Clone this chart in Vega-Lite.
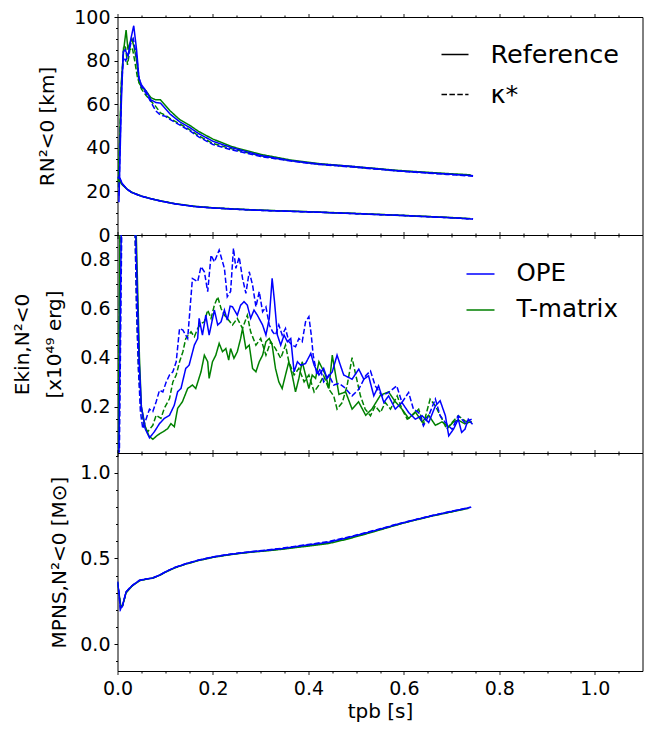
{
"$schema": "https://vega.github.io/schema/vega-lite/v6.json",
"padding": {"left": 11.5, "top": 7, "right": 2, "bottom": 2},
"spacing": 0,
"bounds": "flush",
"config": {
  "font": "DejaVu Sans",
  "view": {"stroke": "black", "strokeWidth": 1},
  "axis": {"grid": false, "domain": false, "ticks": true, "tickSize": 3.5, "tickColor": "black", "tickWidth": 1, "labelColor": "black", "titleColor": "black", "labelFontSize": 19, "titleFontSize": 20, "titleFontWeight": "normal", "labelFont": "DejaVu Sans", "titleFont": "DejaVu Sans", "labelPadding": 4, "labelFlush": false, "labelOverlap": false},
  "legend": {"orient": "top-right", "padding": 0, "title": null, "labelFont": "DejaVu Sans", "labelColor": "black", "symbolType": "stroke", "symbolStrokeWidth": 1.5, "labelLimit": 400}
},
"resolve": {"scale": {"color": "independent", "strokeDash": "independent"}, "legend": {"color": "independent", "strokeDash": "independent"}},
"vconcat": [
{
  "width": 525, "height": 218,
  "data": {"values": [
{"s":"T-matrix","r":"Reference","c":"o","t":0.002,"v":25},{"s":"T-matrix","r":"Reference","c":"o","t":0.008,"v":70},{"s":"T-matrix","r":"Reference","c":"o","t":0.013,"v":85},{"s":"T-matrix","r":"Reference","c":"o","t":0.018,"v":94},{"s":"T-matrix","r":"Reference","c":"o","t":0.022,"v":85},{"s":"T-matrix","r":"Reference","c":"o","t":0.026,"v":88},{"s":"T-matrix","r":"Reference","c":"o","t":0.03,"v":90},{"s":"T-matrix","r":"Reference","c":"o","t":0.035,"v":86},{"s":"T-matrix","r":"Reference","c":"o","t":0.04,"v":80},{"s":"T-matrix","r":"Reference","c":"o","t":0.045,"v":70},{"s":"T-matrix","r":"Reference","c":"o","t":0.05,"v":68},{"s":"T-matrix","r":"Reference","c":"o","t":0.06,"v":66},{"s":"T-matrix","r":"Reference","c":"o","t":0.07,"v":63},{"s":"T-matrix","r":"Reference","c":"o","t":0.08,"v":62},{"s":"T-matrix","r":"Reference","c":"o","t":0.09,"v":62},{"s":"T-matrix","r":"Reference","c":"o","t":0.1,"v":59.5},{"s":"T-matrix","r":"Reference","c":"o","t":0.11,"v":57},{"s":"T-matrix","r":"Reference","c":"o","t":0.13,"v":53},{"s":"T-matrix","r":"Reference","c":"o","t":0.15,"v":50.5},{"s":"T-matrix","r":"Reference","c":"o","t":0.17,"v":47.5},{"s":"T-matrix","r":"Reference","c":"o","t":0.2,"v":44},{"s":"T-matrix","r":"Reference","c":"o","t":0.24,"v":40.5},{"s":"T-matrix","r":"Reference","c":"o","t":0.3,"v":37},{"s":"T-matrix","r":"Reference","c":"o","t":0.36,"v":34.5},{"s":"T-matrix","r":"Reference","c":"o","t":0.42,"v":32.8},{"s":"T-matrix","r":"Reference","c":"o","t":0.49,"v":31.5},{"s":"T-matrix","r":"Reference","c":"o","t":0.59,"v":29.6},{"s":"T-matrix","r":"Reference","c":"o","t":0.69,"v":28.2},{"s":"T-matrix","r":"Reference","c":"o","t":0.74,"v":27.6},
{"s":"T-matrix","r":"κ*","c":"o","t":0.002,"v":22},{"s":"T-matrix","r":"κ*","c":"o","t":0.008,"v":68},{"s":"T-matrix","r":"κ*","c":"o","t":0.013,"v":87},{"s":"T-matrix","r":"κ*","c":"o","t":0.017,"v":86},{"s":"T-matrix","r":"κ*","c":"o","t":0.021,"v":78},{"s":"T-matrix","r":"κ*","c":"o","t":0.026,"v":85},{"s":"T-matrix","r":"κ*","c":"o","t":0.031,"v":86},{"s":"T-matrix","r":"κ*","c":"o","t":0.036,"v":80},{"s":"T-matrix","r":"κ*","c":"o","t":0.042,"v":72},{"s":"T-matrix","r":"κ*","c":"o","t":0.05,"v":67},{"s":"T-matrix","r":"κ*","c":"o","t":0.06,"v":64},{"s":"T-matrix","r":"κ*","c":"o","t":0.07,"v":61.5},{"s":"T-matrix","r":"κ*","c":"o","t":0.08,"v":59},{"s":"T-matrix","r":"κ*","c":"o","t":0.09,"v":56},{"s":"T-matrix","r":"κ*","c":"o","t":0.1,"v":55},{"s":"T-matrix","r":"κ*","c":"o","t":0.11,"v":53.5},{"s":"T-matrix","r":"κ*","c":"o","t":0.13,"v":51},{"s":"T-matrix","r":"κ*","c":"o","t":0.15,"v":48.5},{"s":"T-matrix","r":"κ*","c":"o","t":0.17,"v":45.5},{"s":"T-matrix","r":"κ*","c":"o","t":0.2,"v":42},{"s":"T-matrix","r":"κ*","c":"o","t":0.24,"v":39.5},{"s":"T-matrix","r":"κ*","c":"o","t":0.3,"v":36.3},{"s":"T-matrix","r":"κ*","c":"o","t":0.36,"v":34.2},{"s":"T-matrix","r":"κ*","c":"o","t":0.42,"v":32.5},{"s":"T-matrix","r":"κ*","c":"o","t":0.49,"v":31.3},{"s":"T-matrix","r":"κ*","c":"o","t":0.59,"v":29.4},{"s":"T-matrix","r":"κ*","c":"o","t":0.69,"v":28},{"s":"T-matrix","r":"κ*","c":"o","t":0.735,"v":27.4},
{"s":"OPE","r":"Reference","c":"o","t":0.003,"v":15},{"s":"OPE","r":"Reference","c":"o","t":0.008,"v":60},{"s":"OPE","r":"Reference","c":"o","t":0.012,"v":84},{"s":"OPE","r":"Reference","c":"o","t":0.016,"v":85},{"s":"OPE","r":"Reference","c":"o","t":0.022,"v":82},{"s":"OPE","r":"Reference","c":"o","t":0.028,"v":90},{"s":"OPE","r":"Reference","c":"o","t":0.034,"v":96},{"s":"OPE","r":"Reference","c":"o","t":0.04,"v":85},{"s":"OPE","r":"Reference","c":"o","t":0.045,"v":72},{"s":"OPE","r":"Reference","c":"o","t":0.05,"v":69},{"s":"OPE","r":"Reference","c":"o","t":0.06,"v":66},{"s":"OPE","r":"Reference","c":"o","t":0.07,"v":62},{"s":"OPE","r":"Reference","c":"o","t":0.08,"v":60.8},{"s":"OPE","r":"Reference","c":"o","t":0.09,"v":60.5},{"s":"OPE","r":"Reference","c":"o","t":0.1,"v":58},{"s":"OPE","r":"Reference","c":"o","t":0.11,"v":55.5},{"s":"OPE","r":"Reference","c":"o","t":0.13,"v":52},{"s":"OPE","r":"Reference","c":"o","t":0.15,"v":49.5},{"s":"OPE","r":"Reference","c":"o","t":0.17,"v":46.5},{"s":"OPE","r":"Reference","c":"o","t":0.2,"v":43},{"s":"OPE","r":"Reference","c":"o","t":0.24,"v":40},{"s":"OPE","r":"Reference","c":"o","t":0.3,"v":36.5},{"s":"OPE","r":"Reference","c":"o","t":0.36,"v":34.2},{"s":"OPE","r":"Reference","c":"o","t":0.42,"v":32.6},{"s":"OPE","r":"Reference","c":"o","t":0.49,"v":31.5},{"s":"OPE","r":"Reference","c":"o","t":0.59,"v":29.4},{"s":"OPE","r":"Reference","c":"o","t":0.69,"v":28},{"s":"OPE","r":"Reference","c":"o","t":0.745,"v":27.2},
{"s":"OPE","r":"κ*","c":"o","t":0.003,"v":18},{"s":"OPE","r":"κ*","c":"o","t":0.008,"v":65},{"s":"OPE","r":"κ*","c":"o","t":0.012,"v":82},{"s":"OPE","r":"κ*","c":"o","t":0.017,"v":80},{"s":"OPE","r":"κ*","c":"o","t":0.022,"v":82},{"s":"OPE","r":"κ*","c":"o","t":0.028,"v":88},{"s":"OPE","r":"κ*","c":"o","t":0.033,"v":90},{"s":"OPE","r":"κ*","c":"o","t":0.04,"v":82},{"s":"OPE","r":"κ*","c":"o","t":0.045,"v":72},{"s":"OPE","r":"κ*","c":"o","t":0.05,"v":68},{"s":"OPE","r":"κ*","c":"o","t":0.06,"v":65},{"s":"OPE","r":"κ*","c":"o","t":0.07,"v":61},{"s":"OPE","r":"κ*","c":"o","t":0.08,"v":57},{"s":"OPE","r":"κ*","c":"o","t":0.09,"v":55},{"s":"OPE","r":"κ*","c":"o","t":0.1,"v":54.5},{"s":"OPE","r":"κ*","c":"o","t":0.11,"v":53},{"s":"OPE","r":"κ*","c":"o","t":0.13,"v":50.5},{"s":"OPE","r":"κ*","c":"o","t":0.15,"v":48},{"s":"OPE","r":"κ*","c":"o","t":0.17,"v":45},{"s":"OPE","r":"κ*","c":"o","t":0.2,"v":41.5},{"s":"OPE","r":"κ*","c":"o","t":0.24,"v":39},{"s":"OPE","r":"κ*","c":"o","t":0.3,"v":36},{"s":"OPE","r":"κ*","c":"o","t":0.36,"v":34},{"s":"OPE","r":"κ*","c":"o","t":0.42,"v":32.4},{"s":"OPE","r":"κ*","c":"o","t":0.49,"v":31.2},{"s":"OPE","r":"κ*","c":"o","t":0.59,"v":29.3},{"s":"OPE","r":"κ*","c":"o","t":0.69,"v":27.8},{"s":"OPE","r":"κ*","c":"o","t":0.745,"v":27},
{"s":"T-matrix","r":"Reference","c":"i","t":0,"v":26},{"s":"T-matrix","r":"Reference","c":"i","t":0.005,"v":24.5},{"s":"T-matrix","r":"Reference","c":"i","t":0.01,"v":23},{"s":"T-matrix","r":"Reference","c":"i","t":0.02,"v":21},{"s":"T-matrix","r":"Reference","c":"i","t":0.03,"v":19.6},{"s":"T-matrix","r":"Reference","c":"i","t":0.05,"v":17.9},{"s":"T-matrix","r":"Reference","c":"i","t":0.07,"v":16.7},{"s":"T-matrix","r":"Reference","c":"i","t":0.09,"v":15.7},{"s":"T-matrix","r":"Reference","c":"i","t":0.12,"v":14.4},{"s":"T-matrix","r":"Reference","c":"i","t":0.16,"v":13.2},{"s":"T-matrix","r":"Reference","c":"i","t":0.2,"v":12.5},{"s":"T-matrix","r":"Reference","c":"i","t":0.25,"v":11.9},{"s":"T-matrix","r":"Reference","c":"i","t":0.3,"v":11.4},{"s":"T-matrix","r":"Reference","c":"i","t":0.4,"v":10.7},{"s":"T-matrix","r":"Reference","c":"i","t":0.5,"v":9.9},{"s":"T-matrix","r":"Reference","c":"i","t":0.6,"v":9},{"s":"T-matrix","r":"Reference","c":"i","t":0.7,"v":8},{"s":"T-matrix","r":"Reference","c":"i","t":0.74,"v":7.5},
{"s":"T-matrix","r":"κ*","c":"i","t":0,"v":25},{"s":"T-matrix","r":"κ*","c":"i","t":0.005,"v":25},{"s":"T-matrix","r":"κ*","c":"i","t":0.01,"v":23.2},{"s":"T-matrix","r":"κ*","c":"i","t":0.02,"v":21},{"s":"T-matrix","r":"κ*","c":"i","t":0.03,"v":19.5},{"s":"T-matrix","r":"κ*","c":"i","t":0.05,"v":17.8},{"s":"T-matrix","r":"κ*","c":"i","t":0.07,"v":16.6},{"s":"T-matrix","r":"κ*","c":"i","t":0.09,"v":15.6},{"s":"T-matrix","r":"κ*","c":"i","t":0.12,"v":14.3},{"s":"T-matrix","r":"κ*","c":"i","t":0.16,"v":13.1},{"s":"T-matrix","r":"κ*","c":"i","t":0.2,"v":12.4},{"s":"T-matrix","r":"κ*","c":"i","t":0.25,"v":11.8},{"s":"T-matrix","r":"κ*","c":"i","t":0.3,"v":11.3},{"s":"T-matrix","r":"κ*","c":"i","t":0.4,"v":10.6},{"s":"T-matrix","r":"κ*","c":"i","t":0.5,"v":9.8},{"s":"T-matrix","r":"κ*","c":"i","t":0.6,"v":8.9},{"s":"T-matrix","r":"κ*","c":"i","t":0.7,"v":7.9},{"s":"T-matrix","r":"κ*","c":"i","t":0.735,"v":7.5},
{"s":"OPE","r":"Reference","c":"i","t":0,"v":26.5},{"s":"OPE","r":"Reference","c":"i","t":0.005,"v":26},{"s":"OPE","r":"Reference","c":"i","t":0.01,"v":23.5},{"s":"OPE","r":"Reference","c":"i","t":0.02,"v":21},{"s":"OPE","r":"Reference","c":"i","t":0.03,"v":19.5},{"s":"OPE","r":"Reference","c":"i","t":0.05,"v":17.8},{"s":"OPE","r":"Reference","c":"i","t":0.07,"v":16.6},{"s":"OPE","r":"Reference","c":"i","t":0.09,"v":15.6},{"s":"OPE","r":"Reference","c":"i","t":0.12,"v":14.3},{"s":"OPE","r":"Reference","c":"i","t":0.16,"v":13.1},{"s":"OPE","r":"Reference","c":"i","t":0.2,"v":12.4},{"s":"OPE","r":"Reference","c":"i","t":0.25,"v":11.8},{"s":"OPE","r":"Reference","c":"i","t":0.3,"v":11.3},{"s":"OPE","r":"Reference","c":"i","t":0.4,"v":10.6},{"s":"OPE","r":"Reference","c":"i","t":0.5,"v":9.8},{"s":"OPE","r":"Reference","c":"i","t":0.6,"v":8.9},{"s":"OPE","r":"Reference","c":"i","t":0.7,"v":7.9},{"s":"OPE","r":"Reference","c":"i","t":0.745,"v":7.3},
{"s":"OPE","r":"κ*","c":"i","t":0,"v":26.5},{"s":"OPE","r":"κ*","c":"i","t":0.005,"v":26},{"s":"OPE","r":"κ*","c":"i","t":0.01,"v":23.5},{"s":"OPE","r":"κ*","c":"i","t":0.02,"v":21},{"s":"OPE","r":"κ*","c":"i","t":0.03,"v":19.5},{"s":"OPE","r":"κ*","c":"i","t":0.05,"v":17.8},{"s":"OPE","r":"κ*","c":"i","t":0.07,"v":16.6},{"s":"OPE","r":"κ*","c":"i","t":0.09,"v":15.6},{"s":"OPE","r":"κ*","c":"i","t":0.12,"v":14.3},{"s":"OPE","r":"κ*","c":"i","t":0.16,"v":13.1},{"s":"OPE","r":"κ*","c":"i","t":0.2,"v":12.4},{"s":"OPE","r":"κ*","c":"i","t":0.25,"v":11.8},{"s":"OPE","r":"κ*","c":"i","t":0.3,"v":11.3},{"s":"OPE","r":"κ*","c":"i","t":0.4,"v":10.6},{"s":"OPE","r":"κ*","c":"i","t":0.5,"v":9.8},{"s":"OPE","r":"κ*","c":"i","t":0.6,"v":8.9},{"s":"OPE","r":"κ*","c":"i","t":0.7,"v":7.9},{"s":"OPE","r":"κ*","c":"i","t":0.745,"v":7.3}
  ]},
  "layer": [
    {"mark": {"type": "line", "strokeWidth": 1.5, "clip": true},
     "encoding": {
       "x": {"field": "t", "type": "quantitative", "scale": {"domain": [0, 1.1], "nice": false, "zero": false},
             "axis": {"orient": "bottom", "values": [0,0.05,0.1,0.15,0.2,0.25,0.3,0.35,0.4,0.45,0.5,0.55,0.6,0.65,0.7,0.75,0.8,0.85,0.9,0.95,1.0,1.05], "labels": false, "title": null,
                      "tickDash": {"condition": {"test": "abs(datum.value*5 - round(datum.value*5)) < 0.001", "value": [1, 0]}, "value": [2, 20]}}},
       "y": {"field": "v", "type": "quantitative", "scale": {"domain": [0, 100], "nice": false},
             "axis": {"orient": "left", "values": [0,5,10,15,20,25,30,35,40,45,50,55,60,65,70,75,80,85,90,95,100], "format": ".0f",
                      "labelExpr": "datum.value % 20 == 0 ? datum.label : ''",
                      "tickDash": {"condition": {"test": "datum.value % 20 == 0", "value": [1, 0]}, "value": [2, 20]},
                      "title": "RN²<0 [km]", "titlePadding": 16}},
       "color": {"field": "s", "type": "nominal", "scale": {"domain": ["OPE", "T-matrix"], "range": ["#0000ff", "#008000"]}, "legend": null},
       "strokeDash": {"field": "r", "type": "nominal", "scale": {"domain": ["Reference", "κ*"], "range": [[1, 0], [5.5, 2.4]]},
                      "legend": {"symbolStrokeColor": "black", "symbolSize": 729, "labelOffset": 21, "rowPadding": 12, "labelFontSize": 25.5, "offset": 23}},
       "detail": {"field": "c"}
     }},
    {"data": {"values": []}, "mark": "rule",
     "encoding": {"x": {"field": "t", "type": "quantitative", "scale": {"domain": [0, 1.1], "nice": false, "zero": false},
        "axis": {"orient": "top", "values": [0,0.05,0.1,0.15,0.2,0.25,0.3,0.35,0.4,0.45,0.5,0.55,0.6,0.65,0.7,0.75,0.8,0.85,0.9,0.95,1.0,1.05], "labels": false, "title": null,
                 "tickDash": {"condition": {"test": "abs(datum.value*5 - round(datum.value*5)) < 0.001", "value": [1, 0]}, "value": [2, 20]}}}}}
  ]
},
{
  "width": 525, "height": 218,
  "data": {"values": [
{"s":"T-matrix","r":"Reference","t":0,"v":0},{"s":"T-matrix","r":"Reference","t":0.002,"v":0.02},{"s":"T-matrix","r":"Reference","t":0.007,"v":1.5},{"s":"T-matrix","r":"Reference","t":0.03,"v":2},{"s":"T-matrix","r":"Reference","t":0.038,"v":1.0},{"s":"T-matrix","r":"Reference","t":0.042,"v":0.7},{"s":"T-matrix","r":"Reference","t":0.046,"v":0.4},{"s":"T-matrix","r":"Reference","t":0.05,"v":0.2},{"s":"T-matrix","r":"Reference","t":0.058,"v":0.12},{"s":"T-matrix","r":"Reference","t":0.066,"v":0.08},{"s":"T-matrix","r":"Reference","t":0.074,"v":0.067},{"s":"T-matrix","r":"Reference","t":0.084,"v":0.084},{"s":"T-matrix","r":"Reference","t":0.095,"v":0.097},{"s":"T-matrix","r":"Reference","t":0.105,"v":0.11},{"s":"T-matrix","r":"Reference","t":0.112,"v":0.131},{"s":"T-matrix","r":"Reference","t":0.119,"v":0.118},{"s":"T-matrix","r":"Reference","t":0.126,"v":0.193},{"s":"T-matrix","r":"Reference","t":0.136,"v":0.22},{"s":"T-matrix","r":"Reference","t":0.147,"v":0.274},{"s":"T-matrix","r":"Reference","t":0.157,"v":0.288},{"s":"T-matrix","r":"Reference","t":0.164,"v":0.274},{"s":"T-matrix","r":"Reference","t":0.175,"v":0.342},{"s":"T-matrix","r":"Reference","t":0.182,"v":0.41},{"s":"T-matrix","r":"Reference","t":0.189,"v":0.383},{"s":"T-matrix","r":"Reference","t":0.192,"v":0.315},{"s":"T-matrix","r":"Reference","t":0.199,"v":0.383},{"s":"T-matrix","r":"Reference","t":0.206,"v":0.41},{"s":"T-matrix","r":"Reference","t":0.213,"v":0.458},{"s":"T-matrix","r":"Reference","t":0.22,"v":0.424},{"s":"T-matrix","r":"Reference","t":0.227,"v":0.437},{"s":"T-matrix","r":"Reference","t":0.233,"v":0.39},{"s":"T-matrix","r":"Reference","t":0.237,"v":0.437},{"s":"T-matrix","r":"Reference","t":0.244,"v":0.397},{"s":"T-matrix","r":"Reference","t":0.251,"v":0.424},{"s":"T-matrix","r":"Reference","t":0.258,"v":0.478},{"s":"T-matrix","r":"Reference","t":0.262,"v":0.519},{"s":"T-matrix","r":"Reference","t":0.269,"v":0.437},{"s":"T-matrix","r":"Reference","t":0.276,"v":0.451},{"s":"T-matrix","r":"Reference","t":0.283,"v":0.356},{"s":"T-matrix","r":"Reference","t":0.29,"v":0.342},{"s":"T-matrix","r":"Reference","t":0.297,"v":0.383},{"s":"T-matrix","r":"Reference","t":0.304,"v":0.41},{"s":"T-matrix","r":"Reference","t":0.311,"v":0.465},{"s":"T-matrix","r":"Reference","t":0.318,"v":0.478},{"s":"T-matrix","r":"Reference","t":0.324,"v":0.451},{"s":"T-matrix","r":"Reference","t":0.331,"v":0.356},{"s":"T-matrix","r":"Reference","t":0.338,"v":0.301},{"s":"T-matrix","r":"Reference","t":0.345,"v":0.274},{"s":"T-matrix","r":"Reference","t":0.352,"v":0.329},{"s":"T-matrix","r":"Reference","t":0.359,"v":0.383},{"s":"T-matrix","r":"Reference","t":0.366,"v":0.329},{"s":"T-matrix","r":"Reference","t":0.373,"v":0.26},{"s":"T-matrix","r":"Reference","t":0.38,"v":0.315},{"s":"T-matrix","r":"Reference","t":0.387,"v":0.383},{"s":"T-matrix","r":"Reference","t":0.394,"v":0.329},{"s":"T-matrix","r":"Reference","t":0.401,"v":0.274},{"s":"T-matrix","r":"Reference","t":0.408,"v":0.329},{"s":"T-matrix","r":"Reference","t":0.415,"v":0.315},{"s":"T-matrix","r":"Reference","t":0.422,"v":0.383},{"s":"T-matrix","r":"Reference","t":0.429,"v":0.356},{"s":"T-matrix","r":"Reference","t":0.436,"v":0.329},{"s":"T-matrix","r":"Reference","t":0.443,"v":0.274},{"s":"T-matrix","r":"Reference","t":0.45,"v":0.41},{"s":"T-matrix","r":"Reference","t":0.457,"v":0.329},{"s":"T-matrix","r":"Reference","t":0.464,"v":0.25},{"s":"T-matrix","r":"Reference","t":0.478,"v":0.26},{"s":"T-matrix","r":"Reference","t":0.4915,"v":0.19},{"s":"T-matrix","r":"Reference","t":0.505,"v":0.22},{"s":"T-matrix","r":"Reference","t":0.52,"v":0.165},{"s":"T-matrix","r":"Reference","t":0.533,"v":0.19},{"s":"T-matrix","r":"Reference","t":0.551,"v":0.247},{"s":"T-matrix","r":"Reference","t":0.568,"v":0.26},{"s":"T-matrix","r":"Reference","t":0.582,"v":0.22},{"s":"T-matrix","r":"Reference","t":0.596,"v":0.19},{"s":"T-matrix","r":"Reference","t":0.61,"v":0.152},{"s":"T-matrix","r":"Reference","t":0.624,"v":0.179},{"s":"T-matrix","r":"Reference","t":0.638,"v":0.138},{"s":"T-matrix","r":"Reference","t":0.652,"v":0.165},{"s":"T-matrix","r":"Reference","t":0.666,"v":0.124},{"s":"T-matrix","r":"Reference","t":0.68,"v":0.138},{"s":"T-matrix","r":"Reference","t":0.694,"v":0.118},{"s":"T-matrix","r":"Reference","t":0.704,"v":0.138},{"s":"T-matrix","r":"Reference","t":0.714,"v":0.145},{"s":"T-matrix","r":"Reference","t":0.728,"v":0.13},{"s":"T-matrix","r":"Reference","t":0.742,"v":0.14},
{"s":"T-matrix","r":"κ*","t":0,"v":0},{"s":"T-matrix","r":"κ*","t":0.002,"v":0.02},{"s":"T-matrix","r":"κ*","t":0.008,"v":1.5},{"s":"T-matrix","r":"κ*","t":0.03,"v":2},{"s":"T-matrix","r":"κ*","t":0.036,"v":1.0},{"s":"T-matrix","r":"κ*","t":0.04,"v":0.6},{"s":"T-matrix","r":"κ*","t":0.044,"v":0.35},{"s":"T-matrix","r":"κ*","t":0.049,"v":0.2},{"s":"T-matrix","r":"κ*","t":0.056,"v":0.12},{"s":"T-matrix","r":"κ*","t":0.063,"v":0.097},{"s":"T-matrix","r":"κ*","t":0.074,"v":0.124},{"s":"T-matrix","r":"κ*","t":0.081,"v":0.165},{"s":"T-matrix","r":"κ*","t":0.091,"v":0.152},{"s":"T-matrix","r":"κ*","t":0.098,"v":0.193},{"s":"T-matrix","r":"κ*","t":0.109,"v":0.233},{"s":"T-matrix","r":"κ*","t":0.116,"v":0.301},{"s":"T-matrix","r":"κ*","t":0.123,"v":0.329},{"s":"T-matrix","r":"κ*","t":0.13,"v":0.383},{"s":"T-matrix","r":"κ*","t":0.137,"v":0.424},{"s":"T-matrix","r":"κ*","t":0.143,"v":0.478},{"s":"T-matrix","r":"κ*","t":0.154,"v":0.505},{"s":"T-matrix","r":"κ*","t":0.161,"v":0.485},{"s":"T-matrix","r":"κ*","t":0.168,"v":0.519},{"s":"T-matrix","r":"κ*","t":0.175,"v":0.539},{"s":"T-matrix","r":"κ*","t":0.182,"v":0.546},{"s":"T-matrix","r":"κ*","t":0.189,"v":0.594},{"s":"T-matrix","r":"κ*","t":0.196,"v":0.56},{"s":"T-matrix","r":"κ*","t":0.203,"v":0.614},{"s":"T-matrix","r":"κ*","t":0.21,"v":0.648},{"s":"T-matrix","r":"κ*","t":0.217,"v":0.6},{"s":"T-matrix","r":"κ*","t":0.224,"v":0.573},{"s":"T-matrix","r":"κ*","t":0.23,"v":0.56},{"s":"T-matrix","r":"κ*","t":0.241,"v":0.533},{"s":"T-matrix","r":"κ*","t":0.251,"v":0.56},{"s":"T-matrix","r":"κ*","t":0.262,"v":0.519},{"s":"T-matrix","r":"κ*","t":0.272,"v":0.573},{"s":"T-matrix","r":"κ*","t":0.279,"v":0.505},{"s":"T-matrix","r":"κ*","t":0.29,"v":0.451},{"s":"T-matrix","r":"κ*","t":0.3,"v":0.478},{"s":"T-matrix","r":"κ*","t":0.311,"v":0.41},{"s":"T-matrix","r":"κ*","t":0.321,"v":0.465},{"s":"T-matrix","r":"κ*","t":0.331,"v":0.437},{"s":"T-matrix","r":"κ*","t":0.342,"v":0.397},{"s":"T-matrix","r":"κ*","t":0.352,"v":0.451},{"s":"T-matrix","r":"κ*","t":0.359,"v":0.383},{"s":"T-matrix","r":"κ*","t":0.37,"v":0.329},{"s":"T-matrix","r":"κ*","t":0.38,"v":0.356},{"s":"T-matrix","r":"κ*","t":0.391,"v":0.301},{"s":"T-matrix","r":"κ*","t":0.401,"v":0.329},{"s":"T-matrix","r":"κ*","t":0.412,"v":0.26},{"s":"T-matrix","r":"κ*","t":0.422,"v":0.288},{"s":"T-matrix","r":"κ*","t":0.432,"v":0.326},{"s":"T-matrix","r":"κ*","t":0.443,"v":0.271},{"s":"T-matrix","r":"κ*","t":0.453,"v":0.244},{"s":"T-matrix","r":"κ*","t":0.46,"v":0.19},{"s":"T-matrix","r":"κ*","t":0.471,"v":0.217},{"s":"T-matrix","r":"κ*","t":0.481,"v":0.285},{"s":"T-matrix","r":"κ*","t":0.4915,"v":0.4},{"s":"T-matrix","r":"κ*","t":0.498,"v":0.34},{"s":"T-matrix","r":"κ*","t":0.509,"v":0.244},{"s":"T-matrix","r":"κ*","t":0.519,"v":0.19},{"s":"T-matrix","r":"κ*","t":0.53,"v":0.163},{"s":"T-matrix","r":"κ*","t":0.54,"v":0.203},{"s":"T-matrix","r":"κ*","t":0.551,"v":0.176},{"s":"T-matrix","r":"κ*","t":0.561,"v":0.217},{"s":"T-matrix","r":"κ*","t":0.572,"v":0.19},{"s":"T-matrix","r":"κ*","t":0.586,"v":0.244},{"s":"T-matrix","r":"κ*","t":0.596,"v":0.19},{"s":"T-matrix","r":"κ*","t":0.607,"v":0.149},{"s":"T-matrix","r":"κ*","t":0.617,"v":0.163},{"s":"T-matrix","r":"κ*","t":0.631,"v":0.19},{"s":"T-matrix","r":"κ*","t":0.641,"v":0.128},{"s":"T-matrix","r":"κ*","t":0.655,"v":0.231},{"s":"T-matrix","r":"κ*","t":0.666,"v":0.203},{"s":"T-matrix","r":"κ*","t":0.68,"v":0.149},{"s":"T-matrix","r":"κ*","t":0.69,"v":0.108},{"s":"T-matrix","r":"κ*","t":0.701,"v":0.135},{"s":"T-matrix","r":"κ*","t":0.714,"v":0.163},{"s":"T-matrix","r":"κ*","t":0.728,"v":0.142},{"s":"T-matrix","r":"κ*","t":0.742,"v":0.135},
{"s":"OPE","r":"Reference","t":0,"v":0},{"s":"OPE","r":"Reference","t":0.003,"v":0.02},{"s":"OPE","r":"Reference","t":0.011,"v":1.5},{"s":"OPE","r":"Reference","t":0.03,"v":2},{"s":"OPE","r":"Reference","t":0.037,"v":1.0},{"s":"OPE","r":"Reference","t":0.041,"v":0.7},{"s":"OPE","r":"Reference","t":0.045,"v":0.4},{"s":"OPE","r":"Reference","t":0.05,"v":0.2},{"s":"OPE","r":"Reference","t":0.058,"v":0.11},{"s":"OPE","r":"Reference","t":0.067,"v":0.073},{"s":"OPE","r":"Reference","t":0.077,"v":0.097},{"s":"OPE","r":"Reference","t":0.088,"v":0.131},{"s":"OPE","r":"Reference","t":0.098,"v":0.152},{"s":"OPE","r":"Reference","t":0.109,"v":0.165},{"s":"OPE","r":"Reference","t":0.119,"v":0.206},{"s":"OPE","r":"Reference","t":0.126,"v":0.261},{"s":"OPE","r":"Reference","t":0.133,"v":0.274},{"s":"OPE","r":"Reference","t":0.143,"v":0.356},{"s":"OPE","r":"Reference","t":0.15,"v":0.369},{"s":"OPE","r":"Reference","t":0.161,"v":0.451},{"s":"OPE","r":"Reference","t":0.168,"v":0.478},{"s":"OPE","r":"Reference","t":0.171,"v":0.56},{"s":"OPE","r":"Reference","t":0.178,"v":0.492},{"s":"OPE","r":"Reference","t":0.185,"v":0.573},{"s":"OPE","r":"Reference","t":0.192,"v":0.492},{"s":"OPE","r":"Reference","t":0.203,"v":0.594},{"s":"OPE","r":"Reference","t":0.21,"v":0.533},{"s":"OPE","r":"Reference","t":0.217,"v":0.546},{"s":"OPE","r":"Reference","t":0.224,"v":0.594},{"s":"OPE","r":"Reference","t":0.23,"v":0.553},{"s":"OPE","r":"Reference","t":0.236,"v":0.61},{"s":"OPE","r":"Reference","t":0.241,"v":0.607},{"s":"OPE","r":"Reference","t":0.251,"v":0.573},{"s":"OPE","r":"Reference","t":0.258,"v":0.614},{"s":"OPE","r":"Reference","t":0.265,"v":0.628},{"s":"OPE","r":"Reference","t":0.272,"v":0.614},{"s":"OPE","r":"Reference","t":0.279,"v":0.56},{"s":"OPE","r":"Reference","t":0.286,"v":0.594},{"s":"OPE","r":"Reference","t":0.293,"v":0.573},{"s":"OPE","r":"Reference","t":0.304,"v":0.533},{"s":"OPE","r":"Reference","t":0.311,"v":0.492},{"s":"OPE","r":"Reference","t":0.318,"v":0.56},{"s":"OPE","r":"Reference","t":0.324,"v":0.723},{"s":"OPE","r":"Reference","t":0.329,"v":0.628},{"s":"OPE","r":"Reference","t":0.335,"v":0.492},{"s":"OPE","r":"Reference","t":0.342,"v":0.451},{"s":"OPE","r":"Reference","t":0.349,"v":0.492},{"s":"OPE","r":"Reference","t":0.356,"v":0.465},{"s":"OPE","r":"Reference","t":0.363,"v":0.478},{"s":"OPE","r":"Reference","t":0.37,"v":0.342},{"s":"OPE","r":"Reference","t":0.377,"v":0.383},{"s":"OPE","r":"Reference","t":0.384,"v":0.369},{"s":"OPE","r":"Reference","t":0.394,"v":0.376},{"s":"OPE","r":"Reference","t":0.405,"v":0.417},{"s":"OPE","r":"Reference","t":0.412,"v":0.369},{"s":"OPE","r":"Reference","t":0.422,"v":0.329},{"s":"OPE","r":"Reference","t":0.432,"v":0.356},{"s":"OPE","r":"Reference","t":0.439,"v":0.315},{"s":"OPE","r":"Reference","t":0.45,"v":0.342},{"s":"OPE","r":"Reference","t":0.46,"v":0.41},{"s":"OPE","r":"Reference","t":0.467,"v":0.369},{"s":"OPE","r":"Reference","t":0.474,"v":0.329},{"s":"OPE","r":"Reference","t":0.4915,"v":0.312},{"s":"OPE","r":"Reference","t":0.5055,"v":0.353},{"s":"OPE","r":"Reference","t":0.516,"v":0.312},{"s":"OPE","r":"Reference","t":0.526,"v":0.326},{"s":"OPE","r":"Reference","t":0.537,"v":0.244},{"s":"OPE","r":"Reference","t":0.547,"v":0.285},{"s":"OPE","r":"Reference","t":0.558,"v":0.217},{"s":"OPE","r":"Reference","t":0.568,"v":0.244},{"s":"OPE","r":"Reference","t":0.582,"v":0.19},{"s":"OPE","r":"Reference","t":0.596,"v":0.217},{"s":"OPE","r":"Reference","t":0.61,"v":0.176},{"s":"OPE","r":"Reference","t":0.624,"v":0.149},{"s":"OPE","r":"Reference","t":0.638,"v":0.163},{"s":"OPE","r":"Reference","t":0.652,"v":0.135},{"s":"OPE","r":"Reference","t":0.666,"v":0.203},{"s":"OPE","r":"Reference","t":0.676,"v":0.224},{"s":"OPE","r":"Reference","t":0.687,"v":0.163},{"s":"OPE","r":"Reference","t":0.694,"v":0.081},{"s":"OPE","r":"Reference","t":0.704,"v":0.108},{"s":"OPE","r":"Reference","t":0.714,"v":0.149},{"s":"OPE","r":"Reference","t":0.721,"v":0.095},{"s":"OPE","r":"Reference","t":0.728,"v":0.108},{"s":"OPE","r":"Reference","t":0.735,"v":0.149},{"s":"OPE","r":"Reference","t":0.744,"v":0.128},
{"s":"OPE","r":"κ*","t":0,"v":0},{"s":"OPE","r":"κ*","t":0.004,"v":0.02},{"s":"OPE","r":"κ*","t":0.012,"v":1.5},{"s":"OPE","r":"κ*","t":0.03,"v":2},{"s":"OPE","r":"κ*","t":0.036,"v":1.0},{"s":"OPE","r":"κ*","t":0.04,"v":0.6},{"s":"OPE","r":"κ*","t":0.044,"v":0.35},{"s":"OPE","r":"κ*","t":0.048,"v":0.18},{"s":"OPE","r":"κ*","t":0.053,"v":0.11},{"s":"OPE","r":"κ*","t":0.06,"v":0.15},{"s":"OPE","r":"κ*","t":0.067,"v":0.19},{"s":"OPE","r":"κ*","t":0.074,"v":0.18},{"s":"OPE","r":"κ*","t":0.081,"v":0.22},{"s":"OPE","r":"κ*","t":0.088,"v":0.267},{"s":"OPE","r":"κ*","t":0.095,"v":0.26},{"s":"OPE","r":"κ*","t":0.102,"v":0.3},{"s":"OPE","r":"κ*","t":0.109,"v":0.329},{"s":"OPE","r":"κ*","t":0.116,"v":0.342},{"s":"OPE","r":"κ*","t":0.123,"v":0.383},{"s":"OPE","r":"κ*","t":0.13,"v":0.519},{"s":"OPE","r":"κ*","t":0.137,"v":0.512},{"s":"OPE","r":"κ*","t":0.147,"v":0.478},{"s":"OPE","r":"κ*","t":0.157,"v":0.723},{"s":"OPE","r":"κ*","t":0.168,"v":0.71},{"s":"OPE","r":"κ*","t":0.175,"v":0.771},{"s":"OPE","r":"κ*","t":0.182,"v":0.75},{"s":"OPE","r":"κ*","t":0.189,"v":0.669},{"s":"OPE","r":"κ*","t":0.196,"v":0.818},{"s":"OPE","r":"κ*","t":0.203,"v":0.79},{"s":"OPE","r":"κ*","t":0.213,"v":0.839},{"s":"OPE","r":"κ*","t":0.224,"v":0.764},{"s":"OPE","r":"κ*","t":0.23,"v":0.648},{"s":"OPE","r":"κ*","t":0.237,"v":0.67},{"s":"OPE","r":"κ*","t":0.243,"v":0.846},{"s":"OPE","r":"κ*","t":0.248,"v":0.764},{"s":"OPE","r":"κ*","t":0.255,"v":0.81},{"s":"OPE","r":"κ*","t":0.262,"v":0.723},{"s":"OPE","r":"κ*","t":0.269,"v":0.662},{"s":"OPE","r":"κ*","t":0.276,"v":0.75},{"s":"OPE","r":"κ*","t":0.283,"v":0.696},{"s":"OPE","r":"κ*","t":0.29,"v":0.607},{"s":"OPE","r":"κ*","t":0.297,"v":0.669},{"s":"OPE","r":"κ*","t":0.304,"v":0.587},{"s":"OPE","r":"κ*","t":0.311,"v":0.607},{"s":"OPE","r":"κ*","t":0.318,"v":0.533},{"s":"OPE","r":"κ*","t":0.325,"v":0.505},{"s":"OPE","r":"κ*","t":0.331,"v":0.492},{"s":"OPE","r":"κ*","t":0.338,"v":0.533},{"s":"OPE","r":"κ*","t":0.345,"v":0.492},{"s":"OPE","r":"κ*","t":0.352,"v":0.519},{"s":"OPE","r":"κ*","t":0.359,"v":0.465},{"s":"OPE","r":"κ*","t":0.366,"v":0.451},{"s":"OPE","r":"κ*","t":0.373,"v":0.444},{"s":"OPE","r":"κ*","t":0.38,"v":0.478},{"s":"OPE","r":"κ*","t":0.387,"v":0.465},{"s":"OPE","r":"κ*","t":0.394,"v":0.546},{"s":"OPE","r":"κ*","t":0.401,"v":0.567},{"s":"OPE","r":"κ*","t":0.406,"v":0.492},{"s":"OPE","r":"κ*","t":0.41,"v":0.41},{"s":"OPE","r":"κ*","t":0.418,"v":0.329},{"s":"OPE","r":"κ*","t":0.425,"v":0.356},{"s":"OPE","r":"κ*","t":0.432,"v":0.301},{"s":"OPE","r":"κ*","t":0.443,"v":0.329},{"s":"OPE","r":"κ*","t":0.453,"v":0.288},{"s":"OPE","r":"κ*","t":0.464,"v":0.295},{"s":"OPE","r":"κ*","t":0.474,"v":0.281},{"s":"OPE","r":"κ*","t":0.4915,"v":0.244},{"s":"OPE","r":"κ*","t":0.5055,"v":0.271},{"s":"OPE","r":"κ*","t":0.52,"v":0.326},{"s":"OPE","r":"κ*","t":0.53,"v":0.346},{"s":"OPE","r":"κ*","t":0.54,"v":0.285},{"s":"OPE","r":"κ*","t":0.554,"v":0.244},{"s":"OPE","r":"κ*","t":0.568,"v":0.258},{"s":"OPE","r":"κ*","t":0.585,"v":0.285},{"s":"OPE","r":"κ*","t":0.596,"v":0.217},{"s":"OPE","r":"κ*","t":0.61,"v":0.258},{"s":"OPE","r":"κ*","t":0.62,"v":0.19},{"s":"OPE","r":"κ*","t":0.631,"v":0.176},{"s":"OPE","r":"κ*","t":0.641,"v":0.122},{"s":"OPE","r":"κ*","t":0.652,"v":0.163},{"s":"OPE","r":"κ*","t":0.666,"v":0.231},{"s":"OPE","r":"κ*","t":0.676,"v":0.163},{"s":"OPE","r":"κ*","t":0.687,"v":0.135},{"s":"OPE","r":"κ*","t":0.701,"v":0.108},{"s":"OPE","r":"κ*","t":0.714,"v":0.163},{"s":"OPE","r":"κ*","t":0.728,"v":0.135},{"s":"OPE","r":"κ*","t":0.742,"v":0.149}
  ]},
  "layer": [
    {"mark": {"type": "line", "strokeWidth": 1.5, "clip": true},
     "encoding": {
       "x": {"field": "t", "type": "quantitative", "scale": {"domain": [0, 1.1], "nice": false, "zero": false},
             "axis": {"orient": "bottom", "values": [0,0.05,0.1,0.15,0.2,0.25,0.3,0.35,0.4,0.45,0.5,0.55,0.6,0.65,0.7,0.75,0.8,0.85,0.9,0.95,1.0,1.05], "labels": false, "title": null,
                      "tickDash": {"condition": {"test": "abs(datum.value*5 - round(datum.value*5)) < 0.001", "value": [1, 0]}, "value": [2, 20]}}},
       "y": {"field": "v", "type": "quantitative", "scale": {"domain": [0.011, 0.9], "nice": false, "zero": false},
             "axis": {"orient": "left", "values": [0.05,0.1,0.15,0.2,0.25,0.3,0.35,0.4,0.45,0.5,0.55,0.6,0.65,0.7,0.75,0.8,0.85], "format": ".1f",
                      "labelExpr": "abs(datum.value*5 - round(datum.value*5)) < 0.001 ? datum.label : ''",
                      "tickDash": {"condition": {"test": "abs(datum.value*5 - round(datum.value*5)) < 0.001", "value": [1, 0]}, "value": [2, 20]},
                      "title": ["Ekin,N²<0", "[x10⁴⁹ erg]"], "titleLineHeight": 32, "titlePadding": 15}},
       "color": {"field": "s", "type": "nominal", "scale": {"domain": ["OPE", "T-matrix"], "range": ["#0000ff", "#008000"]},
                 "legend": {"symbolSize": 784, "labelOffset": 21, "rowPadding": 9, "symbolDash": [1, 0], "labelFontSize": 24.5, "offset": 24}},
       "strokeDash": {"field": "r", "type": "nominal", "scale": {"domain": ["Reference", "κ*"], "range": [[1, 0], [5.5, 2.4]]}, "legend": null}
     }},
    {"data": {"values": []}, "mark": "rule",
     "encoding": {"x": {"field": "t", "type": "quantitative", "scale": {"domain": [0, 1.1], "nice": false, "zero": false},
        "axis": {"orient": "top", "values": [0,0.05,0.1,0.15,0.2,0.25,0.3,0.35,0.4,0.45,0.5,0.55,0.6,0.65,0.7,0.75,0.8,0.85,0.9,0.95,1.0,1.05], "labels": false, "title": null,
                 "tickDash": {"condition": {"test": "abs(datum.value*5 - round(datum.value*5)) < 0.001", "value": [1, 0]}, "value": [2, 20]}}}}}
  ]
},
{
  "width": 525, "height": 218,
  "data": {"values": [
{"s":"T-matrix","r":"Reference","t":0,"v":0.36},{"s":"T-matrix","r":"Reference","t":0.003,"v":0.3},{"s":"T-matrix","r":"Reference","t":0.007,"v":0.22},{"s":"T-matrix","r":"Reference","t":0.011,"v":0.23},{"s":"T-matrix","r":"Reference","t":0.018,"v":0.3},{"s":"T-matrix","r":"Reference","t":0.03,"v":0.338},{"s":"T-matrix","r":"Reference","t":0.046,"v":0.37},{"s":"T-matrix","r":"Reference","t":0.06,"v":0.379},{"s":"T-matrix","r":"Reference","t":0.074,"v":0.385},{"s":"T-matrix","r":"Reference","t":0.09,"v":0.404},{"s":"T-matrix","r":"Reference","t":0.102,"v":0.422},{"s":"T-matrix","r":"Reference","t":0.12,"v":0.445},{"s":"T-matrix","r":"Reference","t":0.143,"v":0.467},{"s":"T-matrix","r":"Reference","t":0.17,"v":0.488},{"s":"T-matrix","r":"Reference","t":0.199,"v":0.506},{"s":"T-matrix","r":"Reference","t":0.23,"v":0.52},{"s":"T-matrix","r":"Reference","t":0.255,"v":0.529},{"s":"T-matrix","r":"Reference","t":0.28,"v":0.537},{"s":"T-matrix","r":"Reference","t":0.311,"v":0.544},{"s":"T-matrix","r":"Reference","t":0.345,"v":0.554},{"s":"T-matrix","r":"Reference","t":0.38,"v":0.566},{"s":"T-matrix","r":"Reference","t":0.41,"v":0.576},{"s":"T-matrix","r":"Reference","t":0.443,"v":0.588},{"s":"T-matrix","r":"Reference","t":0.48,"v":0.612},{"s":"T-matrix","r":"Reference","t":0.519,"v":0.642},{"s":"T-matrix","r":"Reference","t":0.555,"v":0.671},{"s":"T-matrix","r":"Reference","t":0.589,"v":0.699},{"s":"T-matrix","r":"Reference","t":0.625,"v":0.725},{"s":"T-matrix","r":"Reference","t":0.659,"v":0.748},{"s":"T-matrix","r":"Reference","t":0.7,"v":0.772},{"s":"T-matrix","r":"Reference","t":0.735,"v":0.793},
{"s":"T-matrix","r":"κ*","t":0,"v":0.36},{"s":"T-matrix","r":"κ*","t":0.003,"v":0.3},{"s":"T-matrix","r":"κ*","t":0.007,"v":0.215},{"s":"T-matrix","r":"κ*","t":0.011,"v":0.225},{"s":"T-matrix","r":"κ*","t":0.018,"v":0.302},{"s":"T-matrix","r":"κ*","t":0.03,"v":0.339},{"s":"T-matrix","r":"κ*","t":0.046,"v":0.371},{"s":"T-matrix","r":"κ*","t":0.06,"v":0.38},{"s":"T-matrix","r":"κ*","t":0.074,"v":0.386},{"s":"T-matrix","r":"κ*","t":0.09,"v":0.405},{"s":"T-matrix","r":"κ*","t":0.102,"v":0.423},{"s":"T-matrix","r":"κ*","t":0.12,"v":0.446},{"s":"T-matrix","r":"κ*","t":0.143,"v":0.468},{"s":"T-matrix","r":"κ*","t":0.17,"v":0.489},{"s":"T-matrix","r":"κ*","t":0.199,"v":0.507},{"s":"T-matrix","r":"κ*","t":0.23,"v":0.521},{"s":"T-matrix","r":"κ*","t":0.255,"v":0.53},{"s":"T-matrix","r":"κ*","t":0.28,"v":0.538},{"s":"T-matrix","r":"κ*","t":0.311,"v":0.546},{"s":"T-matrix","r":"κ*","t":0.345,"v":0.556},{"s":"T-matrix","r":"κ*","t":0.38,"v":0.569},{"s":"T-matrix","r":"κ*","t":0.41,"v":0.58},{"s":"T-matrix","r":"κ*","t":0.443,"v":0.592},{"s":"T-matrix","r":"κ*","t":0.48,"v":0.616},{"s":"T-matrix","r":"κ*","t":0.519,"v":0.645},{"s":"T-matrix","r":"κ*","t":0.555,"v":0.673},{"s":"T-matrix","r":"κ*","t":0.589,"v":0.7},{"s":"T-matrix","r":"κ*","t":0.625,"v":0.726},{"s":"T-matrix","r":"κ*","t":0.659,"v":0.749},{"s":"T-matrix","r":"κ*","t":0.7,"v":0.773},{"s":"T-matrix","r":"κ*","t":0.735,"v":0.794},
{"s":"OPE","r":"Reference","t":0,"v":0.365},{"s":"OPE","r":"Reference","t":0.003,"v":0.3},{"s":"OPE","r":"Reference","t":0.006,"v":0.205},{"s":"OPE","r":"Reference","t":0.01,"v":0.22},{"s":"OPE","r":"Reference","t":0.018,"v":0.305},{"s":"OPE","r":"Reference","t":0.03,"v":0.34},{"s":"OPE","r":"Reference","t":0.046,"v":0.372},{"s":"OPE","r":"Reference","t":0.06,"v":0.38},{"s":"OPE","r":"Reference","t":0.074,"v":0.386},{"s":"OPE","r":"Reference","t":0.09,"v":0.405},{"s":"OPE","r":"Reference","t":0.102,"v":0.424},{"s":"OPE","r":"Reference","t":0.12,"v":0.447},{"s":"OPE","r":"Reference","t":0.143,"v":0.469},{"s":"OPE","r":"Reference","t":0.17,"v":0.49},{"s":"OPE","r":"Reference","t":0.199,"v":0.508},{"s":"OPE","r":"Reference","t":0.23,"v":0.522},{"s":"OPE","r":"Reference","t":0.255,"v":0.531},{"s":"OPE","r":"Reference","t":0.28,"v":0.539},{"s":"OPE","r":"Reference","t":0.311,"v":0.547},{"s":"OPE","r":"Reference","t":0.345,"v":0.558},{"s":"OPE","r":"Reference","t":0.38,"v":0.572},{"s":"OPE","r":"Reference","t":0.41,"v":0.583},{"s":"OPE","r":"Reference","t":0.443,"v":0.595},{"s":"OPE","r":"Reference","t":0.48,"v":0.62},{"s":"OPE","r":"Reference","t":0.519,"v":0.648},{"s":"OPE","r":"Reference","t":0.555,"v":0.675},{"s":"OPE","r":"Reference","t":0.589,"v":0.702},{"s":"OPE","r":"Reference","t":0.625,"v":0.727},{"s":"OPE","r":"Reference","t":0.659,"v":0.75},{"s":"OPE","r":"Reference","t":0.7,"v":0.775},{"s":"OPE","r":"Reference","t":0.741,"v":0.799},
{"s":"OPE","r":"κ*","t":0,"v":0.365},{"s":"OPE","r":"κ*","t":0.003,"v":0.3},{"s":"OPE","r":"κ*","t":0.006,"v":0.2},{"s":"OPE","r":"κ*","t":0.01,"v":0.218},{"s":"OPE","r":"κ*","t":0.018,"v":0.305},{"s":"OPE","r":"κ*","t":0.03,"v":0.341},{"s":"OPE","r":"κ*","t":0.046,"v":0.373},{"s":"OPE","r":"κ*","t":0.06,"v":0.381},{"s":"OPE","r":"κ*","t":0.074,"v":0.387},{"s":"OPE","r":"κ*","t":0.09,"v":0.406},{"s":"OPE","r":"κ*","t":0.102,"v":0.425},{"s":"OPE","r":"κ*","t":0.12,"v":0.448},{"s":"OPE","r":"κ*","t":0.143,"v":0.47},{"s":"OPE","r":"κ*","t":0.17,"v":0.491},{"s":"OPE","r":"κ*","t":0.199,"v":0.509},{"s":"OPE","r":"κ*","t":0.23,"v":0.523},{"s":"OPE","r":"κ*","t":0.255,"v":0.532},{"s":"OPE","r":"κ*","t":0.28,"v":0.54},{"s":"OPE","r":"κ*","t":0.311,"v":0.549},{"s":"OPE","r":"κ*","t":0.345,"v":0.56},{"s":"OPE","r":"κ*","t":0.38,"v":0.574},{"s":"OPE","r":"κ*","t":0.41,"v":0.586},{"s":"OPE","r":"κ*","t":0.443,"v":0.599},{"s":"OPE","r":"κ*","t":0.48,"v":0.623},{"s":"OPE","r":"κ*","t":0.519,"v":0.65},{"s":"OPE","r":"κ*","t":0.555,"v":0.677},{"s":"OPE","r":"κ*","t":0.589,"v":0.703},{"s":"OPE","r":"κ*","t":0.625,"v":0.728},{"s":"OPE","r":"κ*","t":0.659,"v":0.751},{"s":"OPE","r":"κ*","t":0.7,"v":0.776},{"s":"OPE","r":"κ*","t":0.741,"v":0.8}
  ]},
  "layer": [
    {"mark": {"type": "line", "strokeWidth": 1.5, "clip": true},
     "encoding": {
       "x": {"field": "t", "type": "quantitative", "scale": {"domain": [0, 1.1], "nice": false, "zero": false},
             "axis": {"orient": "bottom", "values": [0,0.05,0.1,0.15,0.2,0.25,0.3,0.35,0.4,0.45,0.5,0.55,0.6,0.65,0.7,0.75,0.8,0.85,0.9,0.95,1.0,1.05], "format": ".1f",
                      "labelExpr": "abs(datum.value*5 - round(datum.value*5)) < 0.001 ? datum.label : ''",
                      "tickDash": {"condition": {"test": "abs(datum.value*5 - round(datum.value*5)) < 0.001", "value": [1, 0]}, "value": [2, 20]},
                      "title": "tpb [s]", "titlePadding": 3, "labelPadding": 5}},
       "y": {"field": "v", "type": "quantitative", "scale": {"domain": [-0.157, 1.116], "nice": false, "zero": false},
             "axis": {"orient": "left", "values": [-0.1,0,0.1,0.2,0.3,0.4,0.5,0.6,0.7,0.8,0.9,1.0,1.1], "format": ".1f",
                      "labelExpr": "abs(datum.value*2 - round(datum.value*2)) < 0.001 ? datum.label : ''",
                      "tickDash": {"condition": {"test": "abs(datum.value*2 - round(datum.value*2)) < 0.001", "value": [1, 0]}, "value": [2, 20]},
                      "title": "MPNS,N²<0 [M⊙]", "titlePadding": 10}},
       "color": {"field": "s", "type": "nominal", "scale": {"domain": ["OPE", "T-matrix"], "range": ["#0000ff", "#008000"]}, "legend": null},
       "strokeDash": {"field": "r", "type": "nominal", "scale": {"domain": ["Reference", "κ*"], "range": [[1, 0], [5.5, 2.4]]}, "legend": null}
     }},
    {"data": {"values": []}, "mark": "rule",
     "encoding": {"x": {"field": "t", "type": "quantitative", "scale": {"domain": [0, 1.1], "nice": false, "zero": false},
        "axis": {"orient": "top", "values": [0,0.05,0.1,0.15,0.2,0.25,0.3,0.35,0.4,0.45,0.5,0.55,0.6,0.65,0.7,0.75,0.8,0.85,0.9,0.95,1.0,1.05], "labels": false, "title": null,
                 "tickDash": {"condition": {"test": "abs(datum.value*5 - round(datum.value*5)) < 0.001", "value": [1, 0]}, "value": [2, 20]}}}}}
  ]
}
]
}
